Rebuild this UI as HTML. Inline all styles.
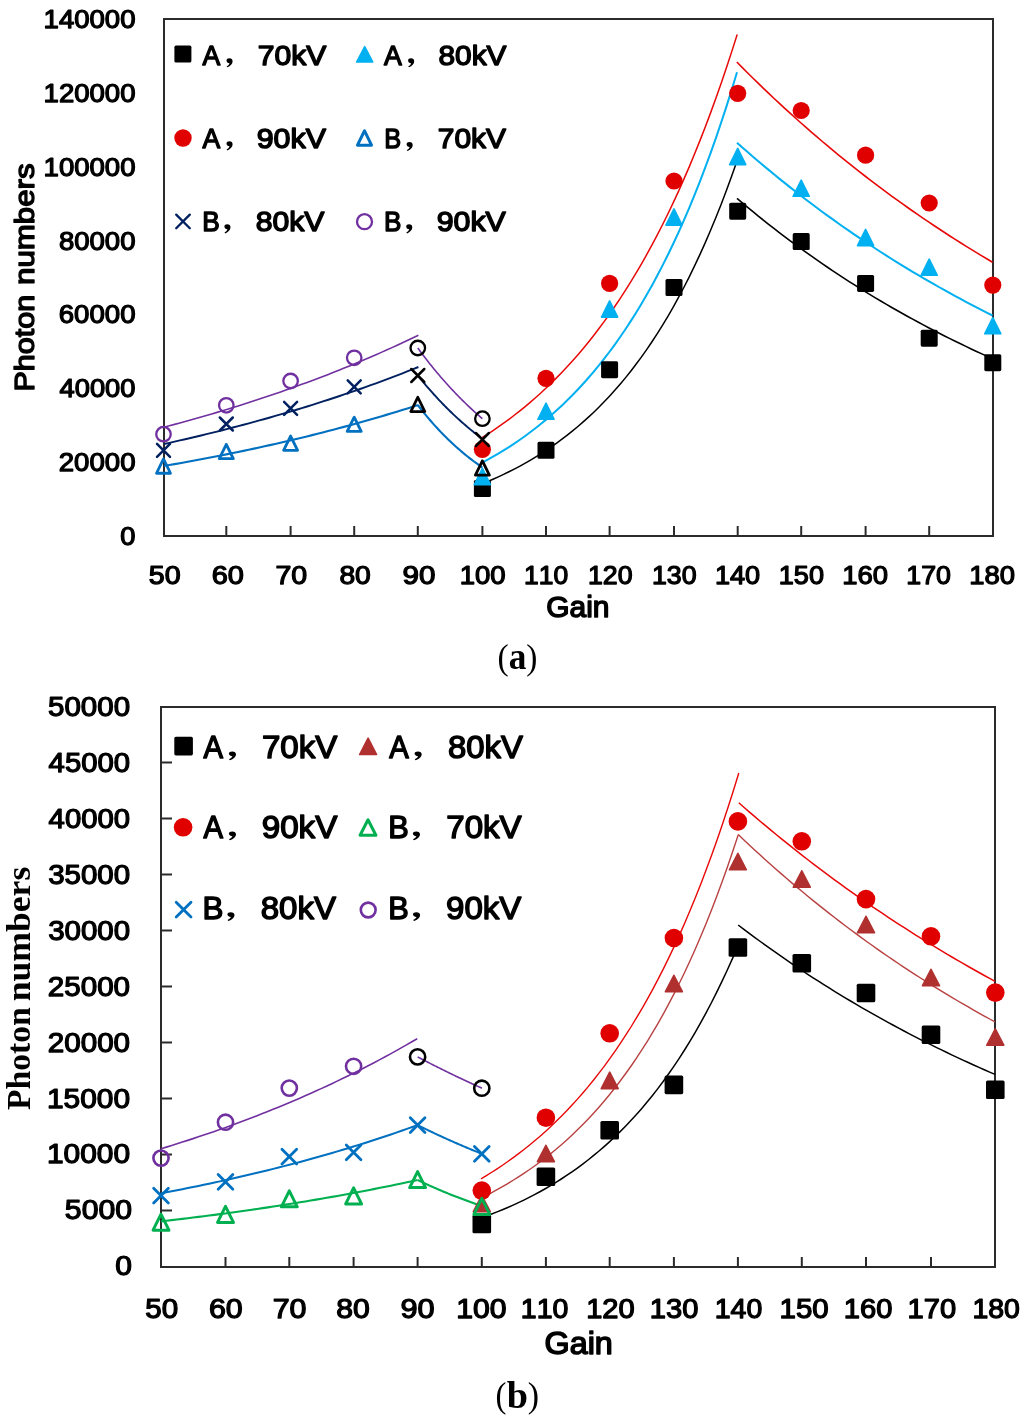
<!DOCTYPE html>
<html><head><meta charset="utf-8"><title>Photon numbers vs Gain</title>
<style>html,body{margin:0;padding:0;background:#fff;width:1024px;height:1420px;overflow:hidden}
svg{display:block;will-change:transform}text{font-kerning:none;font-variant-ligatures:none}</style></head>
<body><svg width="1024" height="1420" viewBox="0 0 1024 1420">
<rect width="1024" height="1420" fill="#fff"/>
<rect x="164" y="19" width="829" height="517" fill="none" stroke="#2b2b2b" stroke-width="2"/>
<line x1="226.3" y1="536" x2="226.3" y2="526" stroke="#2b2b2b" stroke-width="2"/>
<line x1="290.6" y1="536" x2="290.6" y2="526" stroke="#2b2b2b" stroke-width="2"/>
<line x1="354.2" y1="536" x2="354.2" y2="526" stroke="#2b2b2b" stroke-width="2"/>
<line x1="417.8" y1="536" x2="417.8" y2="526" stroke="#2b2b2b" stroke-width="2"/>
<line x1="482.4" y1="536" x2="482.4" y2="526" stroke="#2b2b2b" stroke-width="2"/>
<line x1="546" y1="536" x2="546" y2="526" stroke="#2b2b2b" stroke-width="2"/>
<line x1="609.6" y1="536" x2="609.6" y2="526" stroke="#2b2b2b" stroke-width="2"/>
<line x1="674" y1="536" x2="674" y2="526" stroke="#2b2b2b" stroke-width="2"/>
<line x1="737.7" y1="536" x2="737.7" y2="526" stroke="#2b2b2b" stroke-width="2"/>
<line x1="801.2" y1="536" x2="801.2" y2="526" stroke="#2b2b2b" stroke-width="2"/>
<line x1="865.6" y1="536" x2="865.6" y2="526" stroke="#2b2b2b" stroke-width="2"/>
<line x1="929.2" y1="536" x2="929.2" y2="526" stroke="#2b2b2b" stroke-width="2"/>
<path d="M164 427.2 L169.3 425.8 L174.6 424.39 L179.9 422.95 L185.2 421.5 L190.5 420.03 L195.8 418.54 L201.1 417.03 L206.4 415.5 L211.7 413.95 L217 412.38 L222.3 410.8 L227.6 409.19 L232.9 407.56 L238.2 405.91 L243.5 404.24 L248.8 402.54 L254.1 400.83 L259.4 399.09 L264.7 397.33 L270 395.55 L275.3 393.75 L280.6 391.92 L285.9 390.07 L291.2 388.19 L296.5 386.29 L301.8 384.37 L307.1 382.42 L312.4 380.45 L317.7 378.45 L323 376.43 L328.3 374.38 L333.6 372.3 L338.9 370.2 L344.2 368.07 L349.5 365.91 L354.8 363.72 L360.1 361.51 L365.4 359.27 L370.7 357 L376 354.7 L381.3 352.37 L386.6 350.01 L391.9 347.62 L397.2 345.2 L402.5 342.75 L407.8 340.26 L413.1 337.75 L418.4 335.2" fill="none" stroke="#7030A0" stroke-width="1.6" stroke-linejoin="round"/>
<path d="M164 444 L169.3 442.83 L174.6 441.64 L179.9 440.44 L185.2 439.22 L190.5 437.98 L195.8 436.73 L201.1 435.47 L206.4 434.19 L211.7 432.89 L217 431.57 L222.3 430.24 L227.6 428.89 L232.9 427.53 L238.2 426.15 L243.5 424.75 L248.8 423.33 L254.1 421.89 L259.4 420.44 L264.7 418.96 L270 417.47 L275.3 415.96 L280.6 414.43 L285.9 412.88 L291.2 411.31 L296.5 409.72 L301.8 408.11 L307.1 406.48 L312.4 404.83 L317.7 403.15 L323 401.46 L328.3 399.75 L333.6 398.01 L338.9 396.25 L344.2 394.47 L349.5 392.66 L354.8 390.83 L360.1 388.98 L365.4 387.11 L370.7 385.21 L376 383.29 L381.3 381.34 L386.6 379.37 L391.9 377.37 L397.2 375.35 L402.5 373.3 L407.8 371.23 L413.1 369.13 L418.4 367" fill="none" stroke="#002060" stroke-width="1.9" stroke-linejoin="round"/>
<path d="M164 466 L169.29 465.08 L174.58 464.15 L179.88 463.2 L185.17 462.25 L190.46 461.28 L195.75 460.3 L201.04 459.3 L206.33 458.29 L211.62 457.27 L216.92 456.24 L222.21 455.19 L227.5 454.13 L232.79 453.05 L238.08 451.96 L243.38 450.86 L248.67 449.74 L253.96 448.6 L259.25 447.46 L264.54 446.29 L269.83 445.11 L275.12 443.92 L280.42 442.71 L285.71 441.48 L291 440.24 L296.29 438.98 L301.58 437.71 L306.88 436.41 L312.17 435.11 L317.46 433.78 L322.75 432.44 L328.04 431.08 L333.33 429.7 L338.62 428.3 L343.92 426.88 L349.21 425.45 L354.5 424 L359.79 422.53 L365.08 421.03 L370.38 419.52 L375.67 417.99 L380.96 416.44 L386.25 414.87 L391.54 413.28 L396.83 411.67 L402.12 410.03 L407.42 408.38 L412.71 406.7 L418 405" fill="none" stroke="#0070C0" stroke-width="2.1" stroke-linejoin="round"/>
<path d="M417.8 348 L419.15 349.84 L420.49 351.66 L421.84 353.46 L423.18 355.25 L424.53 357.01 L425.88 358.76 L427.22 360.5 L428.57 362.21 L429.91 363.91 L431.26 365.6 L432.6 367.26 L433.95 368.91 L435.3 370.55 L436.64 372.16 L437.99 373.77 L439.33 375.35 L440.68 376.92 L442.02 378.48 L443.37 380.02 L444.72 381.55 L446.06 383.06 L447.41 384.55 L448.75 386.03 L450.1 387.5 L451.45 388.95 L452.79 390.39 L454.14 391.81 L455.48 393.22 L456.83 394.62 L458.18 396 L459.52 397.37 L460.87 398.73 L462.21 400.07 L463.56 401.4 L464.9 402.72 L466.25 404.02 L467.6 405.31 L468.94 406.59 L470.29 407.85 L471.63 409.11 L472.98 410.35 L474.32 411.58 L475.67 412.79 L477.02 414 L478.36 415.19 L479.71 416.37 L481.05 417.54 L482.4 418.7" fill="none" stroke="#7030A0" stroke-width="1.6" stroke-linejoin="round"/>
<path d="M417.8 375.5 L419.15 377.18 L420.49 378.83 L421.84 380.47 L423.18 382.1 L424.53 383.7 L425.88 385.29 L427.22 386.86 L428.57 388.42 L429.91 389.96 L431.26 391.49 L432.6 392.99 L433.95 394.49 L435.3 395.96 L436.64 397.42 L437.99 398.87 L439.33 400.3 L440.68 401.72 L442.02 403.12 L443.37 404.51 L444.72 405.88 L446.06 407.24 L447.41 408.58 L448.75 409.91 L450.1 411.23 L451.45 412.53 L452.79 413.82 L454.14 415.09 L455.48 416.35 L456.83 417.6 L458.18 418.84 L459.52 420.06 L460.87 421.27 L462.21 422.47 L463.56 423.65 L464.9 424.83 L466.25 425.99 L467.6 427.13 L468.94 428.27 L470.29 429.39 L471.63 430.51 L472.98 431.61 L474.32 432.7 L475.67 433.78 L477.02 434.84 L478.36 435.9 L479.71 436.94 L481.05 437.98 L482.4 439" fill="none" stroke="#002060" stroke-width="1.9" stroke-linejoin="round"/>
<path d="M417.8 405 L419.15 406.76 L420.49 408.49 L421.84 410.2 L423.18 411.89 L424.53 413.56 L425.88 415.2 L427.22 416.82 L428.57 418.42 L429.91 420 L431.26 421.55 L432.6 423.09 L433.95 424.6 L435.3 426.1 L436.64 427.57 L437.99 429.03 L439.33 430.46 L440.68 431.88 L442.02 433.27 L443.37 434.65 L444.72 436.01 L446.06 437.35 L447.41 438.68 L448.75 439.98 L450.1 441.27 L451.45 442.54 L452.79 443.8 L454.14 445.03 L455.48 446.25 L456.83 447.46 L458.18 448.65 L459.52 449.82 L460.87 450.97 L462.21 452.11 L463.56 453.24 L464.9 454.35 L466.25 455.45 L467.6 456.53 L468.94 457.59 L470.29 458.65 L471.63 459.68 L472.98 460.71 L474.32 461.72 L475.67 462.71 L477.02 463.7 L478.36 464.67 L479.71 465.62 L481.05 466.57 L482.4 467.5" fill="none" stroke="#0070C0" stroke-width="2.1" stroke-linejoin="round"/>
<path d="M482.4 437.5 L487.71 434.1 L493.02 430.59 L498.32 426.95 L503.63 423.19 L508.94 419.3 L514.25 415.27 L519.56 411.11 L524.87 406.8 L530.17 402.35 L535.48 397.74 L540.79 392.97 L546.1 388.03 L551.41 382.93 L556.72 377.65 L562.02 372.19 L567.33 366.54 L572.64 360.69 L577.95 354.64 L583.26 348.39 L588.57 341.92 L593.88 335.22 L599.18 328.3 L604.49 321.13 L609.8 313.72 L615.11 306.05 L620.42 298.12 L625.73 289.92 L631.03 281.43 L636.34 272.65 L641.65 263.57 L646.96 254.17 L652.27 244.45 L657.58 234.39 L662.88 223.99 L668.19 213.23 L673.5 202.09 L678.81 190.57 L684.12 178.66 L689.43 166.33 L694.73 153.58 L700.04 140.39 L705.35 126.75 L710.66 112.63 L715.97 98.03 L721.28 82.92 L726.58 67.29 L731.89 51.12 L737.2 34.4" fill="none" stroke="#E80808" stroke-width="1.5" stroke-linejoin="round"/>
<path d="M482.4 462.6 L487.7 459.73 L493.01 456.74 L498.31 453.64 L503.62 450.41 L508.92 447.06 L514.23 443.58 L519.53 439.96 L524.83 436.2 L530.14 432.3 L535.44 428.24 L540.75 424.02 L546.05 419.63 L551.35 415.08 L556.66 410.34 L561.96 405.42 L567.27 400.31 L572.57 395 L577.88 389.48 L583.18 383.74 L588.48 377.78 L593.79 371.59 L599.09 365.15 L604.4 358.46 L609.7 351.51 L615 344.29 L620.31 336.78 L625.61 328.99 L630.92 320.88 L636.22 312.46 L641.52 303.71 L646.83 294.61 L652.13 285.16 L657.44 275.34 L662.74 265.14 L668.05 254.54 L673.35 243.52 L678.65 232.07 L683.96 220.17 L689.26 207.8 L694.57 194.95 L699.87 181.6 L705.17 167.73 L710.48 153.31 L715.78 138.33 L721.09 122.76 L726.39 106.58 L731.7 89.77 L737 72.3" fill="none" stroke="#00B0F0" stroke-width="2.0" stroke-linejoin="round"/>
<path d="M482.4 483.7 L487.7 481.51 L493.01 479.23 L498.31 476.85 L503.62 474.37 L508.92 471.79 L514.23 469.1 L519.53 466.29 L524.83 463.37 L530.14 460.33 L535.44 457.16 L540.75 453.86 L546.05 450.42 L551.35 446.83 L556.66 443.1 L561.96 439.2 L567.27 435.15 L572.57 430.92 L577.88 426.52 L583.18 421.94 L588.48 417.16 L593.79 412.18 L599.09 406.99 L604.4 401.59 L609.7 395.96 L615 390.09 L620.31 383.98 L625.61 377.61 L630.92 370.97 L636.22 364.06 L641.52 356.85 L646.83 349.35 L652.13 341.53 L657.44 333.38 L662.74 324.89 L668.05 316.05 L673.35 306.83 L678.65 297.23 L683.96 287.23 L689.26 276.81 L694.57 265.95 L699.87 254.64 L705.17 242.85 L710.48 230.57 L715.78 217.77 L721.09 204.44 L726.39 190.55 L731.7 176.08 L737 161" fill="none" stroke="#000" stroke-width="1.5" stroke-linejoin="round"/>
<path d="M736.8 62 L742.13 67.39 L747.45 72.72 L752.78 77.98 L758.11 83.19 L763.44 88.34 L768.76 93.43 L774.09 98.46 L779.42 103.43 L784.74 108.35 L790.07 113.21 L795.4 118.02 L800.72 122.77 L806.05 127.47 L811.38 132.11 L816.71 136.7 L822.03 141.24 L827.36 145.73 L832.69 150.17 L838.01 154.55 L843.34 158.89 L848.67 163.18 L854 167.42 L859.32 171.61 L864.65 175.75 L869.98 179.84 L875.3 183.89 L880.63 187.9 L885.96 191.85 L891.29 195.77 L896.61 199.63 L901.94 203.46 L907.27 207.24 L912.59 210.98 L917.92 214.67 L923.25 218.32 L928.58 221.93 L933.9 225.51 L939.23 229.04 L944.56 232.52 L949.88 235.97 L955.21 239.39 L960.54 242.76 L965.86 246.09 L971.19 249.39 L976.52 252.65 L981.85 255.87 L987.17 259.05 L992.5 262.2" fill="none" stroke="#E80808" stroke-width="1.6" stroke-linejoin="round"/>
<path d="M737 142.7 L742.32 147.41 L747.65 152.07 L752.97 156.67 L758.29 161.22 L763.61 165.71 L768.94 170.14 L774.26 174.53 L779.58 178.86 L784.91 183.14 L790.23 187.37 L795.55 191.55 L800.88 195.67 L806.2 199.75 L811.52 203.78 L816.84 207.76 L822.17 211.7 L827.49 215.58 L832.81 219.42 L838.14 223.22 L843.46 226.96 L848.78 230.67 L854.1 234.33 L859.43 237.94 L864.75 241.51 L870.07 245.04 L875.4 248.53 L880.72 251.97 L886.04 255.38 L891.36 258.74 L896.69 262.06 L902.01 265.34 L907.33 268.59 L912.66 271.79 L917.98 274.96 L923.3 278.09 L928.62 281.18 L933.95 284.23 L939.27 287.25 L944.59 290.23 L949.92 293.17 L955.24 296.08 L960.56 298.96 L965.89 301.8 L971.21 304.61 L976.53 307.38 L981.85 310.12 L987.18 312.83 L992.5 315.5" fill="none" stroke="#00B0F0" stroke-width="2.0" stroke-linejoin="round"/>
<path d="M737 198.4 L742.32 202.9 L747.65 207.34 L752.97 211.72 L758.29 216.04 L763.61 220.31 L768.94 224.51 L774.26 228.66 L779.58 232.76 L784.91 236.8 L790.23 240.79 L795.55 244.72 L800.88 248.61 L806.2 252.44 L811.52 256.21 L816.84 259.94 L822.17 263.62 L827.49 267.25 L832.81 270.83 L838.14 274.37 L843.46 277.86 L848.78 281.3 L854.1 284.69 L859.43 288.04 L864.75 291.34 L870.07 294.6 L875.4 297.82 L880.72 301 L886.04 304.13 L891.36 307.22 L896.69 310.27 L902.01 313.28 L907.33 316.24 L912.66 319.17 L917.98 322.06 L923.3 324.91 L928.62 327.73 L933.95 330.5 L939.27 333.24 L944.59 335.94 L949.92 338.61 L955.24 341.24 L960.56 343.84 L965.89 346.4 L971.21 348.92 L976.53 351.42 L981.85 353.88 L987.18 356.31 L992.5 358.7" fill="none" stroke="#000" stroke-width="1.6" stroke-linejoin="round"/>
<rect x="473.9" y="480" width="17" height="17" rx="1.6" fill="#000"/>
<rect x="537.5" y="441.8" width="17" height="17" rx="1.6" fill="#000"/>
<rect x="601.1" y="361.2" width="17" height="17" rx="1.6" fill="#000"/>
<rect x="665.5" y="279" width="17" height="17" rx="1.6" fill="#000"/>
<rect x="729.2" y="202.7" width="17" height="17" rx="1.6" fill="#000"/>
<rect x="792.7" y="233.1" width="17" height="17" rx="1.6" fill="#000"/>
<rect x="857.1" y="274.9" width="17" height="17" rx="1.6" fill="#000"/>
<rect x="920.7" y="329.7" width="17" height="17" rx="1.6" fill="#000"/>
<rect x="984.3" y="354.2" width="17" height="17" rx="1.6" fill="#000"/>
<polygon points="474.32,484.6 490.48,484.6 482.4,468.4" fill="#00B0F0" stroke="#00B0F0" stroke-width="1.6" stroke-linejoin="round"/>
<polygon points="537.92,419.3 554.08,419.3 546,403.1" fill="#00B0F0" stroke="#00B0F0" stroke-width="1.6" stroke-linejoin="round"/>
<polygon points="601.52,317.1 617.68,317.1 609.6,300.9" fill="#00B0F0" stroke="#00B0F0" stroke-width="1.6" stroke-linejoin="round"/>
<polygon points="665.92,225.1 682.08,225.1 674,208.9" fill="#00B0F0" stroke="#00B0F0" stroke-width="1.6" stroke-linejoin="round"/>
<polygon points="729.62,164.6 745.78,164.6 737.7,148.4" fill="#00B0F0" stroke="#00B0F0" stroke-width="1.6" stroke-linejoin="round"/>
<polygon points="793.12,196.3 809.28,196.3 801.2,180.1" fill="#00B0F0" stroke="#00B0F0" stroke-width="1.6" stroke-linejoin="round"/>
<polygon points="857.52,245.6 873.68,245.6 865.6,229.4" fill="#00B0F0" stroke="#00B0F0" stroke-width="1.6" stroke-linejoin="round"/>
<polygon points="921.12,275.3 937.28,275.3 929.2,259.1" fill="#00B0F0" stroke="#00B0F0" stroke-width="1.6" stroke-linejoin="round"/>
<polygon points="984.72,333.8 1000.88,333.8 992.8,317.6" fill="#00B0F0" stroke="#00B0F0" stroke-width="1.6" stroke-linejoin="round"/>
<circle cx="482.4" cy="449.3" r="8.6" fill="#E00000"/>
<circle cx="546" cy="378.3" r="8.6" fill="#E00000"/>
<circle cx="609.6" cy="283.4" r="8.6" fill="#E00000"/>
<circle cx="674" cy="181" r="8.6" fill="#E00000"/>
<circle cx="737.7" cy="93.3" r="8.6" fill="#E00000"/>
<circle cx="801.2" cy="110.5" r="8.6" fill="#E00000"/>
<circle cx="865.6" cy="155.2" r="8.6" fill="#E00000"/>
<circle cx="929.2" cy="203" r="8.6" fill="#E00000"/>
<circle cx="992.8" cy="285.1" r="8.6" fill="#E00000"/>
<polygon points="156.51,473.25 170.49,473.25 163.5,458.95" fill="none" stroke="#0070C0" stroke-width="2.8" stroke-linejoin="round"/>
<polygon points="219.31,458.65 233.29,458.65 226.3,444.35" fill="none" stroke="#0070C0" stroke-width="2.8" stroke-linejoin="round"/>
<polygon points="283.61,450.35 297.59,450.35 290.6,436.05" fill="none" stroke="#0070C0" stroke-width="2.8" stroke-linejoin="round"/>
<polygon points="347.21,431.45 361.19,431.45 354.2,417.15" fill="none" stroke="#0070C0" stroke-width="2.8" stroke-linejoin="round"/>
<polygon points="410.81,411.55 424.79,411.55 417.8,397.25" fill="none" stroke="#000" stroke-width="2.8" stroke-linejoin="round"/>
<polygon points="475.41,475.15 489.39,475.15 482.4,460.85" fill="none" stroke="#000" stroke-width="2.8" stroke-linejoin="round"/>
<path d="M157 443.9 L170 456.9 M157 456.9 L170 443.9" stroke="#002060" stroke-width="2.5" stroke-linecap="round" fill="none"/>
<path d="M219.8 417.5 L232.8 430.5 M219.8 430.5 L232.8 417.5" stroke="#002060" stroke-width="2.5" stroke-linecap="round" fill="none"/>
<path d="M284.1 401.9 L297.1 414.9 M284.1 414.9 L297.1 401.9" stroke="#002060" stroke-width="2.5" stroke-linecap="round" fill="none"/>
<path d="M347.7 380.4 L360.7 393.4 M347.7 393.4 L360.7 380.4" stroke="#002060" stroke-width="2.5" stroke-linecap="round" fill="none"/>
<path d="M411.3 369 L424.3 382 M411.3 382 L424.3 369" stroke="#000" stroke-width="2.5" stroke-linecap="round" fill="none"/>
<path d="M475.9 433 L488.9 446 M475.9 446 L488.9 433" stroke="#000" stroke-width="2.5" stroke-linecap="round" fill="none"/>
<circle cx="163.5" cy="434.2" r="7.25" fill="none" stroke="#7030A0" stroke-width="2.3"/>
<circle cx="226.3" cy="405.3" r="7.25" fill="none" stroke="#7030A0" stroke-width="2.3"/>
<circle cx="290.6" cy="381" r="7.25" fill="none" stroke="#7030A0" stroke-width="2.3"/>
<circle cx="354.2" cy="357.8" r="7.25" fill="none" stroke="#7030A0" stroke-width="2.3"/>
<circle cx="417.8" cy="348" r="7.25" fill="none" stroke="#000" stroke-width="2.3"/>
<circle cx="482.4" cy="418.7" r="7.25" fill="none" stroke="#000" stroke-width="2.3"/>
<rect x="174.4" y="45.6" width="17" height="17" rx="1.6" fill="#000"/>
<polygon points="356.62,62 372.78,62 364.7,46.6" fill="#00B0F0" stroke="#00B0F0" stroke-width="1.6" stroke-linejoin="round"/>
<circle cx="183" cy="138" r="8.7" fill="#E00000"/>
<polygon points="357.42,145.25 371.58,145.25 364.5,130.75" fill="none" stroke="#0070C0" stroke-width="2.9" stroke-linejoin="round"/>
<path d="M176.2 214.6 L189.8 228.2 M176.2 228.2 L189.8 214.6" stroke="#002060" stroke-width="2.3" stroke-linecap="round" fill="none"/>
<circle cx="364.5" cy="221.7" r="7.5" fill="none" stroke="#7030A0" stroke-width="2.3"/>
<text x="202.4" y="65.15" font-family='"Liberation Sans", sans-serif' font-size="28.49" font-weight="normal" textLength="17.7" lengthAdjust="spacingAndGlyphs" stroke="#000" stroke-width="1.45" stroke-linejoin="round">A</text>
<path transform="translate(226.1 58.2) scale(1 1)" d="M0.4,2.2 C0.4,0.8 1.6,0 3.3,0 C5.3,0 6.5,1.2 6.5,3.0 C6.5,5.6 4.3,8.0 1.3,9.1 L0.5,8.1 C2.2,7.2 3.2,6.2 3.4,5.0 C1.6,4.9 0.4,3.7 0.4,2.2 Z" fill="#000"/>
<text x="257.81" y="65.15" font-family='"Liberation Sans", sans-serif' font-size="28.49" font-weight="normal" textLength="68.57" lengthAdjust="spacingAndGlyphs" stroke="#000" stroke-width="1.45" stroke-linejoin="round">70kV</text>
<text x="384" y="65.15" font-family='"Liberation Sans", sans-serif' font-size="28.49" font-weight="normal" textLength="17.8" lengthAdjust="spacingAndGlyphs" stroke="#000" stroke-width="1.45" stroke-linejoin="round">A</text>
<path transform="translate(407.7 58.2) scale(1 1)" d="M0.4,2.2 C0.4,0.8 1.6,0 3.3,0 C5.3,0 6.5,1.2 6.5,3.0 C6.5,5.6 4.3,8.0 1.3,9.1 L0.5,8.1 C2.2,7.2 3.2,6.2 3.4,5.0 C1.6,4.9 0.4,3.7 0.4,2.2 Z" fill="#000"/>
<text x="438.56" y="65.15" font-family='"Liberation Sans", sans-serif' font-size="28.49" font-weight="normal" textLength="67.92" lengthAdjust="spacingAndGlyphs" stroke="#000" stroke-width="1.45" stroke-linejoin="round">80kV</text>
<text x="202.4" y="148.15" font-family='"Liberation Sans", sans-serif' font-size="28.49" font-weight="normal" textLength="17.7" lengthAdjust="spacingAndGlyphs" stroke="#000" stroke-width="1.45" stroke-linejoin="round">A</text>
<path transform="translate(226.1 141.3) scale(1 1)" d="M0.4,2.2 C0.4,0.8 1.6,0 3.3,0 C5.3,0 6.5,1.2 6.5,3.0 C6.5,5.6 4.3,8.0 1.3,9.1 L0.5,8.1 C2.2,7.2 3.2,6.2 3.4,5.0 C1.6,4.9 0.4,3.7 0.4,2.2 Z" fill="#000"/>
<text x="256.73" y="148.15" font-family='"Liberation Sans", sans-serif' font-size="28.49" font-weight="normal" textLength="69.26" lengthAdjust="spacingAndGlyphs" stroke="#000" stroke-width="1.45" stroke-linejoin="round">90kV</text>
<text x="384.37" y="148.15" font-family='"Liberation Sans", sans-serif' font-size="28.49" font-weight="normal" textLength="16.92" lengthAdjust="spacingAndGlyphs" stroke="#000" stroke-width="1.45" stroke-linejoin="round">B</text>
<path transform="translate(406.2 142) scale(1 1)" d="M0.4,2.2 C0.4,0.8 1.6,0 3.3,0 C5.3,0 6.5,1.2 6.5,3.0 C6.5,5.6 4.3,8.0 1.3,9.1 L0.5,8.1 C2.2,7.2 3.2,6.2 3.4,5.0 C1.6,4.9 0.4,3.7 0.4,2.2 Z" fill="#000"/>
<text x="437.82" y="148.15" font-family='"Liberation Sans", sans-serif' font-size="28.49" font-weight="normal" textLength="68.16" lengthAdjust="spacingAndGlyphs" stroke="#000" stroke-width="1.45" stroke-linejoin="round">70kV</text>
<text x="202.29" y="230.55" font-family='"Liberation Sans", sans-serif' font-size="28.49" font-weight="normal" textLength="17.54" lengthAdjust="spacingAndGlyphs" stroke="#000" stroke-width="1.45" stroke-linejoin="round">B</text>
<path transform="translate(224 224.3) scale(1 1)" d="M0.4,2.2 C0.4,0.8 1.6,0 3.3,0 C5.3,0 6.5,1.2 6.5,3.0 C6.5,5.6 4.3,8.0 1.3,9.1 L0.5,8.1 C2.2,7.2 3.2,6.2 3.4,5.0 C1.6,4.9 0.4,3.7 0.4,2.2 Z" fill="#000"/>
<text x="255.74" y="230.55" font-family='"Liberation Sans", sans-serif' font-size="28.49" font-weight="normal" textLength="68.74" lengthAdjust="spacingAndGlyphs" stroke="#000" stroke-width="1.45" stroke-linejoin="round">80kV</text>
<text x="384.01" y="230.55" font-family='"Liberation Sans", sans-serif' font-size="28.49" font-weight="normal" textLength="17.42" lengthAdjust="spacingAndGlyphs" stroke="#000" stroke-width="1.45" stroke-linejoin="round">B</text>
<path transform="translate(405.8 224.3) scale(1 1)" d="M0.4,2.2 C0.4,0.8 1.6,0 3.3,0 C5.3,0 6.5,1.2 6.5,3.0 C6.5,5.6 4.3,8.0 1.3,9.1 L0.5,8.1 C2.2,7.2 3.2,6.2 3.4,5.0 C1.6,4.9 0.4,3.7 0.4,2.2 Z" fill="#000"/>
<text x="436.73" y="230.55" font-family='"Liberation Sans", sans-serif' font-size="28.49" font-weight="normal" textLength="69.15" lengthAdjust="spacingAndGlyphs" stroke="#000" stroke-width="1.45" stroke-linejoin="round">90kV</text>
<text x="43.58" y="28.17" font-family='"Liberation Sans", sans-serif' font-size="25.78" font-weight="normal" textLength="91.92" lengthAdjust="spacingAndGlyphs" stroke="#000" stroke-width="1.25" stroke-linejoin="round">140000</text>
<text x="43.58" y="101.97" font-family='"Liberation Sans", sans-serif' font-size="25.78" font-weight="normal" textLength="91.92" lengthAdjust="spacingAndGlyphs" stroke="#000" stroke-width="1.25" stroke-linejoin="round">120000</text>
<text x="43.58" y="175.77" font-family='"Liberation Sans", sans-serif' font-size="25.78" font-weight="normal" textLength="91.92" lengthAdjust="spacingAndGlyphs" stroke="#000" stroke-width="1.25" stroke-linejoin="round">100000</text>
<text x="58.98" y="249.57" font-family='"Liberation Sans", sans-serif' font-size="25.78" font-weight="normal" textLength="76.52" lengthAdjust="spacingAndGlyphs" stroke="#000" stroke-width="1.25" stroke-linejoin="round">80000</text>
<text x="58.77" y="323.37" font-family='"Liberation Sans", sans-serif' font-size="25.78" font-weight="normal" textLength="76.73" lengthAdjust="spacingAndGlyphs" stroke="#000" stroke-width="1.25" stroke-linejoin="round">60000</text>
<text x="59.55" y="397.17" font-family='"Liberation Sans", sans-serif' font-size="25.78" font-weight="normal" textLength="75.94" lengthAdjust="spacingAndGlyphs" stroke="#000" stroke-width="1.25" stroke-linejoin="round">40000</text>
<text x="58.79" y="470.97" font-family='"Liberation Sans", sans-serif' font-size="25.78" font-weight="normal" textLength="76.72" lengthAdjust="spacingAndGlyphs" stroke="#000" stroke-width="1.25" stroke-linejoin="round">20000</text>
<text x="120.31" y="544.77" font-family='"Liberation Sans", sans-serif' font-size="25.78" font-weight="normal" textLength="15.18" lengthAdjust="spacingAndGlyphs" stroke="#000" stroke-width="1.25" stroke-linejoin="round">0</text>
<text x="148.83" y="583.68" font-family='"Liberation Sans", sans-serif' font-size="25.49" font-weight="normal" textLength="31.81" lengthAdjust="spacingAndGlyphs" stroke="#000" stroke-width="1.25" stroke-linejoin="round">50</text>
<text x="211.81" y="583.68" font-family='"Liberation Sans", sans-serif' font-size="25.49" font-weight="normal" textLength="32.15" lengthAdjust="spacingAndGlyphs" stroke="#000" stroke-width="1.25" stroke-linejoin="round">60</text>
<text x="275.51" y="583.68" font-family='"Liberation Sans", sans-serif' font-size="25.49" font-weight="normal" textLength="31.73" lengthAdjust="spacingAndGlyphs" stroke="#000" stroke-width="1.25" stroke-linejoin="round">70</text>
<text x="339.45" y="583.68" font-family='"Liberation Sans", sans-serif' font-size="25.49" font-weight="normal" textLength="31.38" lengthAdjust="spacingAndGlyphs" stroke="#000" stroke-width="1.25" stroke-linejoin="round">80</text>
<text x="402.49" y="583.68" font-family='"Liberation Sans", sans-serif' font-size="25.49" font-weight="normal" textLength="32.89" lengthAdjust="spacingAndGlyphs" stroke="#000" stroke-width="1.25" stroke-linejoin="round">90</text>
<text x="459.68" y="583.68" font-family='"Liberation Sans", sans-serif' font-size="25.49" font-weight="normal" textLength="45.92" lengthAdjust="spacingAndGlyphs" stroke="#000" stroke-width="1.25" stroke-linejoin="round">100</text>
<text x="524.06" y="583.68" font-family='"Liberation Sans", sans-serif' font-size="25.49" font-weight="normal" textLength="44.1" lengthAdjust="spacingAndGlyphs" stroke="#000" stroke-width="1.25" stroke-linejoin="round">110</text>
<text x="588.04" y="583.68" font-family='"Liberation Sans", sans-serif' font-size="25.49" font-weight="normal" textLength="44.53" lengthAdjust="spacingAndGlyphs" stroke="#000" stroke-width="1.25" stroke-linejoin="round">120</text>
<text x="651.94" y="583.68" font-family='"Liberation Sans", sans-serif' font-size="25.49" font-weight="normal" textLength="44.63" lengthAdjust="spacingAndGlyphs" stroke="#000" stroke-width="1.25" stroke-linejoin="round">130</text>
<text x="714.91" y="583.68" font-family='"Liberation Sans", sans-serif' font-size="25.49" font-weight="normal" textLength="45.17" lengthAdjust="spacingAndGlyphs" stroke="#000" stroke-width="1.25" stroke-linejoin="round">140</text>
<text x="778.81" y="583.68" font-family='"Liberation Sans", sans-serif' font-size="25.49" font-weight="normal" textLength="45.17" lengthAdjust="spacingAndGlyphs" stroke="#000" stroke-width="1.25" stroke-linejoin="round">150</text>
<text x="842.29" y="583.68" font-family='"Liberation Sans", sans-serif' font-size="25.49" font-weight="normal" textLength="45.71" lengthAdjust="spacingAndGlyphs" stroke="#000" stroke-width="1.25" stroke-linejoin="round">160</text>
<text x="906.34" y="583.68" font-family='"Liberation Sans", sans-serif' font-size="25.49" font-weight="normal" textLength="44.63" lengthAdjust="spacingAndGlyphs" stroke="#000" stroke-width="1.25" stroke-linejoin="round">170</text>
<text x="969.19" y="583.68" font-family='"Liberation Sans", sans-serif' font-size="25.49" font-weight="normal" textLength="45.71" lengthAdjust="spacingAndGlyphs" stroke="#000" stroke-width="1.25" stroke-linejoin="round">180</text>
<text x="546.25" y="616.96" font-family='"Liberation Sans", sans-serif' font-size="29.38" font-weight="normal" textLength="63.25" lengthAdjust="spacingAndGlyphs" stroke="#000" stroke-width="1.45" stroke-linejoin="round">Gain</text>
<text transform="translate(34.4 389.6) rotate(-90)" x="-1.97" y="-0.53" font-family='"Liberation Sans", sans-serif' font-size="28.11" font-weight="normal" textLength="96.83" lengthAdjust="spacingAndGlyphs" stroke="#000" stroke-width="1.4" stroke-linejoin="round">Photon</text>
<text transform="translate(34.4 283.4) rotate(-90)" x="-1.54" y="-0.53" font-family='"Liberation Sans", sans-serif' font-size="28.11" font-weight="normal" textLength="121.54" lengthAdjust="spacingAndGlyphs" stroke="#000" stroke-width="1.4" stroke-linejoin="round">numbers</text>
<text x="497.43" y="669" font-family='"Liberation Serif", serif' font-size="36.17" font-weight="normal" textLength="11.15" lengthAdjust="spacingAndGlyphs">(</text>
<text x="508.76" y="669.02" font-family='"Liberation Serif", serif' font-size="38.62" font-weight="bold" textLength="17.67" lengthAdjust="spacingAndGlyphs">a</text>
<text x="526.22" y="669" font-family='"Liberation Serif", serif' font-size="36.17" font-weight="normal" textLength="11.15" lengthAdjust="spacingAndGlyphs">)</text>
<rect x="161" y="707" width="834" height="560" fill="none" stroke="#2b2b2b" stroke-width="2"/>
<line x1="225.5" y1="1267" x2="225.5" y2="1257" stroke="#2b2b2b" stroke-width="2"/>
<line x1="289.3" y1="1267" x2="289.3" y2="1257" stroke="#2b2b2b" stroke-width="2"/>
<line x1="353.6" y1="1267" x2="353.6" y2="1257" stroke="#2b2b2b" stroke-width="2"/>
<line x1="417.6" y1="1267" x2="417.6" y2="1257" stroke="#2b2b2b" stroke-width="2"/>
<line x1="481.8" y1="1267" x2="481.8" y2="1257" stroke="#2b2b2b" stroke-width="2"/>
<line x1="545.9" y1="1267" x2="545.9" y2="1257" stroke="#2b2b2b" stroke-width="2"/>
<line x1="609.7" y1="1267" x2="609.7" y2="1257" stroke="#2b2b2b" stroke-width="2"/>
<line x1="673.9" y1="1267" x2="673.9" y2="1257" stroke="#2b2b2b" stroke-width="2"/>
<line x1="737.9" y1="1267" x2="737.9" y2="1257" stroke="#2b2b2b" stroke-width="2"/>
<line x1="801.8" y1="1267" x2="801.8" y2="1257" stroke="#2b2b2b" stroke-width="2"/>
<line x1="866" y1="1267" x2="866" y2="1257" stroke="#2b2b2b" stroke-width="2"/>
<line x1="931" y1="1267" x2="931" y2="1257" stroke="#2b2b2b" stroke-width="2"/>
<line x1="161" y1="1210.5" x2="172" y2="1210.5" stroke="#2b2b2b" stroke-width="2"/>
<line x1="161" y1="1154.5" x2="172" y2="1154.5" stroke="#2b2b2b" stroke-width="2"/>
<line x1="161" y1="1098.5" x2="172" y2="1098.5" stroke="#2b2b2b" stroke-width="2"/>
<line x1="161" y1="1042.5" x2="172" y2="1042.5" stroke="#2b2b2b" stroke-width="2"/>
<line x1="161" y1="986.5" x2="172" y2="986.5" stroke="#2b2b2b" stroke-width="2"/>
<line x1="161" y1="930.5" x2="172" y2="930.5" stroke="#2b2b2b" stroke-width="2"/>
<line x1="161" y1="874.5" x2="172" y2="874.5" stroke="#2b2b2b" stroke-width="2"/>
<line x1="161" y1="818.5" x2="172" y2="818.5" stroke="#2b2b2b" stroke-width="2"/>
<line x1="161" y1="762.5" x2="172" y2="762.5" stroke="#2b2b2b" stroke-width="2"/>
<path d="M161 1148.75 L166.34 1147.12 L171.68 1145.47 L177.01 1143.79 L182.35 1142.09 L187.69 1140.37 L193.03 1138.63 L198.36 1136.86 L203.7 1135.06 L209.04 1133.24 L214.38 1131.4 L219.71 1129.53 L225.05 1127.63 L230.39 1125.71 L235.73 1123.76 L241.06 1121.78 L246.4 1119.78 L251.74 1117.75 L257.07 1115.69 L262.41 1113.6 L267.75 1111.48 L273.09 1109.34 L278.42 1107.16 L283.76 1104.96 L289.1 1102.72 L294.44 1100.45 L299.77 1098.16 L305.11 1095.83 L310.45 1093.46 L315.79 1091.07 L321.12 1088.64 L326.46 1086.18 L331.8 1083.68 L337.14 1081.15 L342.48 1078.58 L347.81 1075.98 L353.15 1073.35 L358.49 1070.67 L363.82 1067.96 L369.16 1065.21 L374.5 1062.43 L379.84 1059.6 L385.17 1056.74 L390.51 1053.83 L395.85 1050.89 L401.19 1047.9 L406.52 1044.88 L411.86 1041.81 L417.2 1038.7" fill="none" stroke="#7030A0" stroke-width="1.6" stroke-linejoin="round"/>
<path d="M161 1193.3 L166.35 1192.29 L171.69 1191.26 L177.04 1190.22 L182.38 1189.17 L187.73 1188.1 L193.07 1187.02 L198.42 1185.92 L203.77 1184.81 L209.11 1183.68 L214.46 1182.54 L219.8 1181.38 L225.15 1180.2 L230.5 1179.01 L235.84 1177.8 L241.19 1176.58 L246.53 1175.34 L251.88 1174.08 L257.23 1172.8 L262.57 1171.51 L267.92 1170.19 L273.26 1168.86 L278.61 1167.52 L283.95 1166.15 L289.3 1164.76 L294.65 1163.36 L299.99 1161.93 L305.34 1160.49 L310.68 1159.02 L316.03 1157.54 L321.38 1156.04 L326.72 1154.51 L332.07 1152.96 L337.41 1151.4 L342.76 1149.81 L348.1 1148.19 L353.45 1146.56 L358.8 1144.9 L364.14 1143.22 L369.49 1141.52 L374.83 1139.8 L380.18 1138.05 L385.53 1136.27 L390.87 1134.47 L396.22 1132.65 L401.56 1130.8 L406.91 1128.93 L412.25 1127.03 L417.6 1125.1" fill="none" stroke="#0070C0" stroke-width="2.0" stroke-linejoin="round"/>
<path d="M161 1221.4 L166.35 1220.78 L171.69 1220.16 L177.04 1219.53 L182.38 1218.88 L187.73 1218.23 L193.07 1217.57 L198.42 1216.91 L203.77 1216.23 L209.11 1215.54 L214.46 1214.85 L219.8 1214.14 L225.15 1213.43 L230.5 1212.7 L235.84 1211.97 L241.19 1211.22 L246.53 1210.47 L251.88 1209.7 L257.23 1208.92 L262.57 1208.14 L267.92 1207.34 L273.26 1206.53 L278.61 1205.71 L283.95 1204.88 L289.3 1204.04 L294.65 1203.19 L299.99 1202.32 L305.34 1201.45 L310.68 1200.56 L316.03 1199.66 L321.38 1198.74 L326.72 1197.82 L332.07 1196.88 L337.41 1195.93 L342.76 1194.96 L348.1 1193.99 L353.45 1193 L358.8 1191.99 L364.14 1190.97 L369.49 1189.94 L374.83 1188.9 L380.18 1187.84 L385.53 1186.76 L390.87 1185.67 L396.22 1184.57 L401.56 1183.45 L406.91 1182.32 L412.25 1181.17 L417.6 1180" fill="none" stroke="#00B050" stroke-width="2.1" stroke-linejoin="round"/>
<path d="M417.6 1056.9 L418.94 1057.61 L420.28 1058.31 L421.62 1059.01 L422.96 1059.71 L424.3 1060.4 L425.64 1061.09 L426.98 1061.79 L428.32 1062.47 L429.66 1063.16 L431 1063.84 L432.34 1064.53 L433.68 1065.21 L435.01 1065.88 L436.35 1066.56 L437.69 1067.23 L439.03 1067.9 L440.37 1068.57 L441.71 1069.23 L443.05 1069.9 L444.39 1070.56 L445.73 1071.22 L447.07 1071.88 L448.41 1072.53 L449.75 1073.18 L451.09 1073.83 L452.43 1074.48 L453.77 1075.13 L455.11 1075.77 L456.45 1076.41 L457.79 1077.05 L459.13 1077.69 L460.47 1078.32 L461.81 1078.96 L463.15 1079.59 L464.49 1080.22 L465.82 1080.84 L467.16 1081.47 L468.5 1082.09 L469.84 1082.71 L471.18 1083.33 L472.52 1083.94 L473.86 1084.56 L475.2 1085.17 L476.54 1085.78 L477.88 1086.39 L479.22 1086.99 L480.56 1087.6 L481.9 1088.2" fill="none" stroke="#7030A0" stroke-width="1.6" stroke-linejoin="round"/>
<path d="M417.6 1125.1 L418.94 1125.77 L420.28 1126.43 L421.61 1127.09 L422.95 1127.75 L424.29 1128.4 L425.62 1129.05 L426.96 1129.7 L428.3 1130.35 L429.64 1130.99 L430.98 1131.63 L432.31 1132.26 L433.65 1132.9 L434.99 1133.53 L436.33 1134.15 L437.66 1134.78 L439 1135.4 L440.34 1136.02 L441.68 1136.63 L443.01 1137.24 L444.35 1137.85 L445.69 1138.46 L447.03 1139.06 L448.36 1139.66 L449.7 1140.26 L451.04 1140.86 L452.38 1141.45 L453.71 1142.04 L455.05 1142.63 L456.39 1143.21 L457.73 1143.79 L459.06 1144.37 L460.4 1144.95 L461.74 1145.52 L463.08 1146.09 L464.41 1146.66 L465.75 1147.22 L467.09 1147.79 L468.43 1148.35 L469.76 1148.9 L471.1 1149.46 L472.44 1150.01 L473.78 1150.56 L475.11 1151.11 L476.45 1151.65 L477.79 1152.19 L479.12 1152.73 L480.46 1153.27 L481.8 1153.8" fill="none" stroke="#0070C0" stroke-width="2.0" stroke-linejoin="round"/>
<path d="M417.6 1180 L418.94 1180.64 L420.28 1181.28 L421.61 1181.91 L422.95 1182.54 L424.29 1183.16 L425.62 1183.78 L426.96 1184.39 L428.3 1185 L429.64 1185.61 L430.98 1186.21 L432.31 1186.8 L433.65 1187.4 L434.99 1187.98 L436.33 1188.57 L437.66 1189.14 L439 1189.72 L440.34 1190.29 L441.68 1190.85 L443.01 1191.41 L444.35 1191.97 L445.69 1192.52 L447.03 1193.07 L448.36 1193.62 L449.7 1194.16 L451.04 1194.7 L452.38 1195.23 L453.71 1195.76 L455.05 1196.28 L456.39 1196.8 L457.73 1197.32 L459.06 1197.83 L460.4 1198.34 L461.74 1198.85 L463.08 1199.35 L464.41 1199.85 L465.75 1200.34 L467.09 1200.83 L468.43 1201.32 L469.76 1201.81 L471.1 1202.29 L472.44 1202.76 L473.78 1203.24 L475.11 1203.7 L476.45 1204.17 L477.79 1204.63 L479.12 1205.09 L480.46 1205.55 L481.8 1206" fill="none" stroke="#00B050" stroke-width="2.1" stroke-linejoin="round"/>
<path d="M481 1178.8 L486.37 1175.59 L491.74 1172.25 L497.11 1168.8 L502.48 1165.22 L507.85 1161.51 L513.23 1157.66 L518.6 1153.67 L523.97 1149.54 L529.34 1145.25 L534.71 1140.81 L540.08 1136.2 L545.45 1131.43 L550.82 1126.48 L556.19 1121.34 L561.56 1116.02 L566.93 1110.51 L572.3 1104.79 L577.67 1098.87 L583.05 1092.72 L588.42 1086.36 L593.79 1079.75 L599.16 1072.91 L604.53 1065.82 L609.9 1058.46 L615.27 1050.84 L620.64 1042.93 L626.01 1034.74 L631.38 1026.25 L636.75 1017.44 L642.12 1008.32 L647.5 998.85 L652.87 989.05 L658.24 978.88 L663.61 968.34 L668.98 957.41 L674.35 946.08 L679.72 934.34 L685.09 922.17 L690.46 909.55 L695.83 896.47 L701.2 882.91 L706.57 868.85 L711.95 854.28 L717.32 839.17 L722.69 823.51 L728.06 807.28 L733.43 790.45 L738.8 773" fill="none" stroke="#E80808" stroke-width="1.4" stroke-linejoin="round"/>
<path d="M481 1198 L486.36 1195.32 L491.72 1192.54 L497.08 1189.65 L502.44 1186.64 L507.8 1183.52 L513.16 1180.27 L518.52 1176.9 L523.88 1173.4 L529.24 1169.75 L534.6 1165.97 L539.96 1162.04 L545.33 1157.95 L550.69 1153.71 L556.05 1149.3 L561.41 1144.71 L566.77 1139.95 L572.13 1135 L577.49 1129.86 L582.85 1124.52 L588.21 1118.96 L593.57 1113.2 L598.93 1107.2 L604.29 1100.97 L609.65 1094.5 L615.01 1087.77 L620.37 1080.78 L625.73 1073.52 L631.09 1065.97 L636.45 1058.13 L641.81 1049.98 L647.17 1041.51 L652.53 1032.71 L657.89 1023.57 L663.25 1014.07 L668.61 1004.2 L673.97 993.94 L679.34 983.28 L684.7 972.21 L690.06 960.7 L695.42 948.74 L700.78 936.31 L706.14 923.4 L711.5 909.98 L716.86 896.04 L722.22 881.55 L727.58 866.5 L732.94 850.85 L738.3 834.6" fill="none" stroke="#B84040" stroke-width="1.4" stroke-linejoin="round"/>
<path d="M481 1218 L486.35 1216.05 L491.7 1214.03 L497.06 1211.92 L502.41 1209.73 L507.76 1207.46 L513.11 1205.09 L518.46 1202.62 L523.82 1200.06 L529.17 1197.4 L534.52 1194.62 L539.87 1191.74 L545.23 1188.74 L550.58 1185.62 L555.93 1182.37 L561.28 1179 L566.63 1175.49 L571.99 1171.84 L577.34 1168.04 L582.69 1164.09 L588.04 1159.98 L593.39 1155.7 L598.75 1151.26 L604.1 1146.63 L609.45 1141.82 L614.8 1136.82 L620.15 1131.62 L625.51 1126.21 L630.86 1120.58 L636.21 1114.72 L641.56 1108.63 L646.91 1102.3 L652.27 1095.71 L657.62 1088.86 L662.97 1081.73 L668.32 1074.31 L673.67 1066.6 L679.03 1058.58 L684.38 1050.24 L689.73 1041.56 L695.08 1032.54 L700.44 1023.15 L705.79 1013.39 L711.14 1003.23 L716.49 992.67 L721.84 981.68 L727.2 970.25 L732.55 958.36 L737.9 946" fill="none" stroke="#000" stroke-width="1.5" stroke-linejoin="round"/>
<path d="M738.8 802.8 L744.14 807.47 L749.47 812.1 L754.81 816.67 L760.15 821.21 L765.49 825.69 L770.82 830.13 L776.16 834.53 L781.5 838.88 L786.84 843.19 L792.17 847.46 L797.51 851.68 L802.85 855.86 L808.19 859.99 L813.52 864.09 L818.86 868.14 L824.2 872.16 L829.54 876.13 L834.88 880.06 L840.21 883.96 L845.55 887.81 L850.89 891.63 L856.22 895.4 L861.56 899.14 L866.9 902.84 L872.24 906.51 L877.57 910.13 L882.91 913.72 L888.25 917.28 L893.59 920.8 L898.92 924.28 L904.26 927.73 L909.6 931.14 L914.94 934.52 L920.27 937.86 L925.61 941.17 L930.95 944.45 L936.29 947.7 L941.62 950.91 L946.96 954.09 L952.3 957.23 L957.64 960.35 L962.98 963.44 L968.31 966.49 L973.65 969.51 L978.99 972.5 L984.33 975.47 L989.66 978.4 L995 981.3" fill="none" stroke="#E80808" stroke-width="1.5" stroke-linejoin="round"/>
<path d="M738.3 834.6 L743.65 839.69 L749 844.71 L754.34 849.68 L759.69 854.59 L765.04 859.44 L770.39 864.23 L775.74 868.97 L781.08 873.65 L786.43 878.27 L791.78 882.85 L797.13 887.36 L802.47 891.83 L807.82 896.24 L813.17 900.6 L818.52 904.91 L823.87 909.17 L829.21 913.37 L834.56 917.53 L839.91 921.64 L845.26 925.7 L850.61 929.71 L855.95 933.68 L861.3 937.6 L866.65 941.47 L872 945.3 L877.35 949.08 L882.69 952.82 L888.04 956.51 L893.39 960.16 L898.74 963.77 L904.09 967.34 L909.43 970.86 L914.78 974.34 L920.13 977.78 L925.48 981.18 L930.83 984.54 L936.17 987.86 L941.52 991.14 L946.87 994.38 L952.22 997.59 L957.56 1000.75 L962.91 1003.88 L968.26 1006.98 L973.61 1010.03 L978.96 1013.05 L984.3 1016.04 L989.65 1018.99 L995 1021.9" fill="none" stroke="#B84040" stroke-width="1.4" stroke-linejoin="round"/>
<path d="M738.2 925 L743.55 929.07 L748.9 933.09 L754.25 937.06 L759.6 940.99 L764.95 944.87 L770.3 948.7 L775.65 952.48 L781 956.22 L786.35 959.92 L791.7 963.57 L797.05 967.18 L802.4 970.75 L807.75 974.27 L813.1 977.76 L818.45 981.2 L823.8 984.59 L829.15 987.95 L834.5 991.27 L839.85 994.55 L845.2 997.79 L850.55 1000.99 L855.9 1004.16 L861.25 1007.28 L866.6 1010.37 L871.95 1013.42 L877.3 1016.44 L882.65 1019.42 L888 1022.36 L893.35 1025.27 L898.7 1028.14 L904.05 1030.98 L909.4 1033.79 L914.75 1036.56 L920.1 1039.3 L925.45 1042.01 L930.8 1044.68 L936.15 1047.33 L941.5 1049.94 L946.85 1052.52 L952.2 1055.07 L957.55 1057.59 L962.9 1060.08 L968.25 1062.54 L973.6 1064.97 L978.95 1067.37 L984.3 1069.74 L989.65 1072.08 L995 1074.4" fill="none" stroke="#000" stroke-width="1.5" stroke-linejoin="round"/>
<rect x="472.5" y="1214.7" width="18.6" height="18.6" rx="1.6" fill="#000"/>
<rect x="536.6" y="1167.5" width="18.6" height="18.6" rx="1.6" fill="#000"/>
<rect x="600.4" y="1120.9" width="18.6" height="18.6" rx="1.6" fill="#000"/>
<rect x="664.6" y="1075.6" width="18.6" height="18.6" rx="1.6" fill="#000"/>
<rect x="728.6" y="938.2" width="18.6" height="18.6" rx="1.6" fill="#000"/>
<rect x="792.5" y="953.9" width="18.6" height="18.6" rx="1.6" fill="#000"/>
<rect x="856.7" y="983.7" width="18.6" height="18.6" rx="1.6" fill="#000"/>
<rect x="921.7" y="1025.5" width="18.6" height="18.6" rx="1.6" fill="#000"/>
<rect x="986" y="1080.5" width="18.6" height="18.6" rx="1.6" fill="#000"/>
<polygon points="473.32,1211.7 490.28,1211.7 481.8,1195.3" fill="#B03030" stroke="#B03030" stroke-width="1.6" stroke-linejoin="round"/>
<polygon points="537.42,1161.7 554.38,1161.7 545.9,1145.3" fill="#B03030" stroke="#B03030" stroke-width="1.6" stroke-linejoin="round"/>
<polygon points="601.22,1088.6 618.18,1088.6 609.7,1072.2" fill="#B03030" stroke="#B03030" stroke-width="1.6" stroke-linejoin="round"/>
<polygon points="665.42,991.7 682.38,991.7 673.9,975.3" fill="#B03030" stroke="#B03030" stroke-width="1.6" stroke-linejoin="round"/>
<polygon points="729.42,869.8 746.38,869.8 737.9,853.4" fill="#B03030" stroke="#B03030" stroke-width="1.6" stroke-linejoin="round"/>
<polygon points="793.32,887.2 810.28,887.2 801.8,870.8" fill="#B03030" stroke="#B03030" stroke-width="1.6" stroke-linejoin="round"/>
<polygon points="857.52,932.7 874.48,932.7 866,916.3" fill="#B03030" stroke="#B03030" stroke-width="1.6" stroke-linejoin="round"/>
<polygon points="922.52,985.7 939.48,985.7 931,969.3" fill="#B03030" stroke="#B03030" stroke-width="1.6" stroke-linejoin="round"/>
<polygon points="986.82,1045.2 1003.78,1045.2 995.3,1028.8" fill="#B03030" stroke="#B03030" stroke-width="1.6" stroke-linejoin="round"/>
<circle cx="481.8" cy="1190.6" r="9.3" fill="#E00000"/>
<circle cx="545.9" cy="1117.7" r="9.3" fill="#E00000"/>
<circle cx="609.7" cy="1033.3" r="9.3" fill="#E00000"/>
<circle cx="673.9" cy="938" r="9.3" fill="#E00000"/>
<circle cx="737.9" cy="821.4" r="9.3" fill="#E00000"/>
<circle cx="801.8" cy="841.3" r="9.3" fill="#E00000"/>
<circle cx="866" cy="899.1" r="9.3" fill="#E00000"/>
<circle cx="931" cy="936.3" r="9.3" fill="#E00000"/>
<circle cx="995.3" cy="992.6" r="9.3" fill="#E00000"/>
<polygon points="153.07,1230.2 168.93,1230.2 161,1214.2" fill="none" stroke="#00B050" stroke-width="3.0" stroke-linejoin="round"/>
<polygon points="217.57,1222.4 233.43,1222.4 225.5,1206.4" fill="none" stroke="#00B050" stroke-width="3.0" stroke-linejoin="round"/>
<polygon points="281.38,1206.8 297.23,1206.8 289.3,1190.8" fill="none" stroke="#00B050" stroke-width="3.0" stroke-linejoin="round"/>
<polygon points="345.68,1203.9 361.53,1203.9 353.6,1187.9" fill="none" stroke="#00B050" stroke-width="3.0" stroke-linejoin="round"/>
<polygon points="409.68,1187.6 425.53,1187.6 417.6,1171.6" fill="none" stroke="#00B050" stroke-width="3.0" stroke-linejoin="round"/>
<polygon points="473.88,1214.4 489.73,1214.4 481.8,1198.4" fill="none" stroke="#00B050" stroke-width="3.0" stroke-linejoin="round"/>
<path d="M153.65 1188.25 L168.35 1202.95 M153.65 1202.95 L168.35 1188.25" stroke="#0070C0" stroke-width="2.8" stroke-linecap="round" fill="none"/>
<path d="M218.15 1174.55 L232.85 1189.25 M218.15 1189.25 L232.85 1174.55" stroke="#0070C0" stroke-width="2.8" stroke-linecap="round" fill="none"/>
<path d="M281.95 1149.25 L296.65 1163.95 M281.95 1163.95 L296.65 1149.25" stroke="#0070C0" stroke-width="2.8" stroke-linecap="round" fill="none"/>
<path d="M346.25 1145.05 L360.95 1159.75 M346.25 1159.75 L360.95 1145.05" stroke="#0070C0" stroke-width="2.8" stroke-linecap="round" fill="none"/>
<path d="M410.25 1117.75 L424.95 1132.45 M410.25 1132.45 L424.95 1117.75" stroke="#0070C0" stroke-width="2.8" stroke-linecap="round" fill="none"/>
<path d="M474.45 1146.45 L489.15 1161.15 M474.45 1161.15 L489.15 1146.45" stroke="#0070C0" stroke-width="2.8" stroke-linecap="round" fill="none"/>
<circle cx="161" cy="1158.1" r="7.6" fill="none" stroke="#7030A0" stroke-width="2.6"/>
<circle cx="225.5" cy="1122.2" r="7.6" fill="none" stroke="#7030A0" stroke-width="2.6"/>
<circle cx="289.3" cy="1088.1" r="7.6" fill="none" stroke="#7030A0" stroke-width="2.6"/>
<circle cx="353.6" cy="1066.3" r="7.6" fill="none" stroke="#7030A0" stroke-width="2.6"/>
<circle cx="417.6" cy="1056.9" r="7.6" fill="none" stroke="#000" stroke-width="2.6"/>
<circle cx="481.8" cy="1088.2" r="7.6" fill="none" stroke="#000" stroke-width="2.6"/>
<rect x="174.3" y="736.8" width="18.6" height="18.6" rx="1.6" fill="#000"/>
<polygon points="359.62,754.5 376.58,754.5 368.1,738.1" fill="#B03030" stroke="#B03030" stroke-width="1.6" stroke-linejoin="round"/>
<circle cx="183.1" cy="827.3" r="9.3" fill="#E00000"/>
<polygon points="360.07,835.25 375.93,835.25 368,819.75" fill="none" stroke="#00B050" stroke-width="3.0" stroke-linejoin="round"/>
<path d="M176.2 902.2 L191 917 M176.2 917 L191 902.2" stroke="#0070C0" stroke-width="2.8" stroke-linecap="round" fill="none"/>
<circle cx="368.2" cy="910" r="7.4" fill="none" stroke="#7030A0" stroke-width="2.6"/>
<text x="203.59" y="757.85" font-family='"Liberation Sans", sans-serif' font-size="31.68" font-weight="normal" textLength="19.51" lengthAdjust="spacingAndGlyphs" stroke="#000" stroke-width="1.45" stroke-linejoin="round">A</text>
<path transform="translate(228.4 751.4) scale(1.17 0.97)" d="M0.4,2.2 C0.4,0.8 1.6,0 3.3,0 C5.3,0 6.5,1.2 6.5,3.0 C6.5,5.6 4.3,8.0 1.3,9.1 L0.5,8.1 C2.2,7.2 3.2,6.2 3.4,5.0 C1.6,4.9 0.4,3.7 0.4,2.2 Z" fill="#000"/>
<text x="261.95" y="757.85" font-family='"Liberation Sans", sans-serif' font-size="31.68" font-weight="normal" textLength="75.44" lengthAdjust="spacingAndGlyphs" stroke="#000" stroke-width="1.45" stroke-linejoin="round">70kV</text>
<text x="389.29" y="757.85" font-family='"Liberation Sans", sans-serif' font-size="31.68" font-weight="normal" textLength="19.51" lengthAdjust="spacingAndGlyphs" stroke="#000" stroke-width="1.45" stroke-linejoin="round">A</text>
<path transform="translate(414.1 751.4) scale(1.17 0.97)" d="M0.4,2.2 C0.4,0.8 1.6,0 3.3,0 C5.3,0 6.5,1.2 6.5,3.0 C6.5,5.6 4.3,8.0 1.3,9.1 L0.5,8.1 C2.2,7.2 3.2,6.2 3.4,5.0 C1.6,4.9 0.4,3.7 0.4,2.2 Z" fill="#000"/>
<text x="447.92" y="757.85" font-family='"Liberation Sans", sans-serif' font-size="31.68" font-weight="normal" textLength="74.97" lengthAdjust="spacingAndGlyphs" stroke="#000" stroke-width="1.45" stroke-linejoin="round">80kV</text>
<text x="203.59" y="837.85" font-family='"Liberation Sans", sans-serif' font-size="31.68" font-weight="normal" textLength="19.51" lengthAdjust="spacingAndGlyphs" stroke="#000" stroke-width="1.45" stroke-linejoin="round">A</text>
<path transform="translate(228.4 831.4) scale(1.17 0.97)" d="M0.4,2.2 C0.4,0.8 1.6,0 3.3,0 C5.3,0 6.5,1.2 6.5,3.0 C6.5,5.6 4.3,8.0 1.3,9.1 L0.5,8.1 C2.2,7.2 3.2,6.2 3.4,5.0 C1.6,4.9 0.4,3.7 0.4,2.2 Z" fill="#000"/>
<text x="261.69" y="837.85" font-family='"Liberation Sans", sans-serif' font-size="31.68" font-weight="normal" textLength="75.7" lengthAdjust="spacingAndGlyphs" stroke="#000" stroke-width="1.45" stroke-linejoin="round">90kV</text>
<text x="388.32" y="837.85" font-family='"Liberation Sans", sans-serif' font-size="31.68" font-weight="normal" textLength="20.55" lengthAdjust="spacingAndGlyphs" stroke="#000" stroke-width="1.45" stroke-linejoin="round">B</text>
<path transform="translate(412.4 831.4) scale(1.17 0.97)" d="M0.4,2.2 C0.4,0.8 1.6,0 3.3,0 C5.3,0 6.5,1.2 6.5,3.0 C6.5,5.6 4.3,8.0 1.3,9.1 L0.5,8.1 C2.2,7.2 3.2,6.2 3.4,5.0 C1.6,4.9 0.4,3.7 0.4,2.2 Z" fill="#000"/>
<text x="446.25" y="837.85" font-family='"Liberation Sans", sans-serif' font-size="31.68" font-weight="normal" textLength="75.44" lengthAdjust="spacingAndGlyphs" stroke="#000" stroke-width="1.45" stroke-linejoin="round">70kV</text>
<text x="202.48" y="918.75" font-family='"Liberation Sans", sans-serif' font-size="31.68" font-weight="normal" textLength="20.93" lengthAdjust="spacingAndGlyphs" stroke="#000" stroke-width="1.45" stroke-linejoin="round">B</text>
<path transform="translate(226.9 912.2) scale(1.17 0.97)" d="M0.4,2.2 C0.4,0.8 1.6,0 3.3,0 C5.3,0 6.5,1.2 6.5,3.0 C6.5,5.6 4.3,8.0 1.3,9.1 L0.5,8.1 C2.2,7.2 3.2,6.2 3.4,5.0 C1.6,4.9 0.4,3.7 0.4,2.2 Z" fill="#000"/>
<text x="260.72" y="918.75" font-family='"Liberation Sans", sans-serif' font-size="31.68" font-weight="normal" textLength="75.28" lengthAdjust="spacingAndGlyphs" stroke="#000" stroke-width="1.45" stroke-linejoin="round">80kV</text>
<text x="388.32" y="918.75" font-family='"Liberation Sans", sans-serif' font-size="31.68" font-weight="normal" textLength="20.55" lengthAdjust="spacingAndGlyphs" stroke="#000" stroke-width="1.45" stroke-linejoin="round">B</text>
<path transform="translate(412.5 912.2) scale(1.17 0.97)" d="M0.4,2.2 C0.4,0.8 1.6,0 3.3,0 C5.3,0 6.5,1.2 6.5,3.0 C6.5,5.6 4.3,8.0 1.3,9.1 L0.5,8.1 C2.2,7.2 3.2,6.2 3.4,5.0 C1.6,4.9 0.4,3.7 0.4,2.2 Z" fill="#000"/>
<text x="446.1" y="918.75" font-family='"Liberation Sans", sans-serif' font-size="31.68" font-weight="normal" textLength="75.29" lengthAdjust="spacingAndGlyphs" stroke="#000" stroke-width="1.45" stroke-linejoin="round">90kV</text>
<text x="48.09" y="715.86" font-family='"Liberation Sans", sans-serif' font-size="27.33" font-weight="normal" textLength="81.98" lengthAdjust="spacingAndGlyphs" stroke="#000" stroke-width="1.25" stroke-linejoin="round">50000</text>
<text x="48.6" y="771.81" font-family='"Liberation Sans", sans-serif' font-size="27.33" font-weight="normal" textLength="81.47" lengthAdjust="spacingAndGlyphs" stroke="#000" stroke-width="1.25" stroke-linejoin="round">45000</text>
<text x="48.6" y="827.76" font-family='"Liberation Sans", sans-serif' font-size="27.33" font-weight="normal" textLength="81.47" lengthAdjust="spacingAndGlyphs" stroke="#000" stroke-width="1.25" stroke-linejoin="round">40000</text>
<text x="48.15" y="883.71" font-family='"Liberation Sans", sans-serif' font-size="27.33" font-weight="normal" textLength="81.92" lengthAdjust="spacingAndGlyphs" stroke="#000" stroke-width="1.25" stroke-linejoin="round">35000</text>
<text x="48.15" y="939.66" font-family='"Liberation Sans", sans-serif' font-size="27.33" font-weight="normal" textLength="81.92" lengthAdjust="spacingAndGlyphs" stroke="#000" stroke-width="1.25" stroke-linejoin="round">30000</text>
<text x="47.79" y="995.61" font-family='"Liberation Sans", sans-serif' font-size="27.33" font-weight="normal" textLength="82.29" lengthAdjust="spacingAndGlyphs" stroke="#000" stroke-width="1.25" stroke-linejoin="round">25000</text>
<text x="47.79" y="1051.56" font-family='"Liberation Sans", sans-serif' font-size="27.33" font-weight="normal" textLength="82.29" lengthAdjust="spacingAndGlyphs" stroke="#000" stroke-width="1.25" stroke-linejoin="round">20000</text>
<text x="47" y="1107.51" font-family='"Liberation Sans", sans-serif' font-size="27.33" font-weight="normal" textLength="83.09" lengthAdjust="spacingAndGlyphs" stroke="#000" stroke-width="1.25" stroke-linejoin="round">15000</text>
<text x="47" y="1163.46" font-family='"Liberation Sans", sans-serif' font-size="27.33" font-weight="normal" textLength="83.09" lengthAdjust="spacingAndGlyphs" stroke="#000" stroke-width="1.25" stroke-linejoin="round">10000</text>
<text x="64.87" y="1219.41" font-family='"Liberation Sans", sans-serif' font-size="27.33" font-weight="normal" textLength="67.14" lengthAdjust="spacingAndGlyphs" stroke="#000" stroke-width="1.25" stroke-linejoin="round">5000</text>
<text x="115.3" y="1275.36" font-family='"Liberation Sans", sans-serif' font-size="27.33" font-weight="normal" textLength="16.7" lengthAdjust="spacingAndGlyphs" stroke="#000" stroke-width="1.25" stroke-linejoin="round">0</text>
<text x="145.29" y="1317.96" font-family='"Liberation Sans", sans-serif' font-size="26.91" font-weight="normal" textLength="32.89" lengthAdjust="spacingAndGlyphs" stroke="#000" stroke-width="1.25" stroke-linejoin="round">50</text>
<text x="208.93" y="1317.96" font-family='"Liberation Sans", sans-serif' font-size="26.91" font-weight="normal" textLength="33.78" lengthAdjust="spacingAndGlyphs" stroke="#000" stroke-width="1.25" stroke-linejoin="round">60</text>
<text x="272.66" y="1317.96" font-family='"Liberation Sans", sans-serif' font-size="26.91" font-weight="normal" textLength="33.85" lengthAdjust="spacingAndGlyphs" stroke="#000" stroke-width="1.25" stroke-linejoin="round">70</text>
<text x="336.16" y="1317.96" font-family='"Liberation Sans", sans-serif' font-size="26.91" font-weight="normal" textLength="33.54" lengthAdjust="spacingAndGlyphs" stroke="#000" stroke-width="1.25" stroke-linejoin="round">80</text>
<text x="400.53" y="1317.96" font-family='"Liberation Sans", sans-serif' font-size="26.91" font-weight="normal" textLength="34.19" lengthAdjust="spacingAndGlyphs" stroke="#000" stroke-width="1.25" stroke-linejoin="round">90</text>
<text x="456.18" y="1317.96" font-family='"Liberation Sans", sans-serif' font-size="26.91" font-weight="normal" textLength="50.33" lengthAdjust="spacingAndGlyphs" stroke="#000" stroke-width="1.25" stroke-linejoin="round">100</text>
<text x="520.8" y="1317.96" font-family='"Liberation Sans", sans-serif' font-size="26.91" font-weight="normal" textLength="47.53" lengthAdjust="spacingAndGlyphs" stroke="#000" stroke-width="1.25" stroke-linejoin="round">110</text>
<text x="586.16" y="1317.96" font-family='"Liberation Sans", sans-serif' font-size="26.91" font-weight="normal" textLength="48.5" lengthAdjust="spacingAndGlyphs" stroke="#000" stroke-width="1.25" stroke-linejoin="round">120</text>
<text x="649.86" y="1317.96" font-family='"Liberation Sans", sans-serif' font-size="26.91" font-weight="normal" textLength="48.61" lengthAdjust="spacingAndGlyphs" stroke="#000" stroke-width="1.25" stroke-linejoin="round">130</text>
<text x="714.81" y="1317.96" font-family='"Liberation Sans", sans-serif' font-size="26.91" font-weight="normal" textLength="47.43" lengthAdjust="spacingAndGlyphs" stroke="#000" stroke-width="1.25" stroke-linejoin="round">140</text>
<text x="779.53" y="1317.96" font-family='"Liberation Sans", sans-serif' font-size="26.91" font-weight="normal" textLength="49.14" lengthAdjust="spacingAndGlyphs" stroke="#000" stroke-width="1.25" stroke-linejoin="round">150</text>
<text x="843.86" y="1317.96" font-family='"Liberation Sans", sans-serif' font-size="26.91" font-weight="normal" textLength="48.61" lengthAdjust="spacingAndGlyphs" stroke="#000" stroke-width="1.25" stroke-linejoin="round">160</text>
<text x="907.56" y="1317.96" font-family='"Liberation Sans", sans-serif' font-size="26.91" font-weight="normal" textLength="48.61" lengthAdjust="spacingAndGlyphs" stroke="#000" stroke-width="1.25" stroke-linejoin="round">170</text>
<text x="972.51" y="1317.96" font-family='"Liberation Sans", sans-serif' font-size="26.91" font-weight="normal" textLength="47.43" lengthAdjust="spacingAndGlyphs" stroke="#000" stroke-width="1.25" stroke-linejoin="round">180</text>
<text x="544.55" y="1353.83" font-family='"Liberation Sans", sans-serif' font-size="30.88" font-weight="normal" textLength="68.23" lengthAdjust="spacingAndGlyphs" stroke="#000" stroke-width="1.5" stroke-linejoin="round">Gain</text>
<text transform="translate(30.3 1109.4) rotate(-90)" x="-0.57" y="0" font-family='"Liberation Serif", serif' font-size="32.68" font-weight="bold" textLength="102.68" lengthAdjust="spacingAndGlyphs">Photon</text>
<text transform="translate(30.3 1000.4) rotate(-90)" x="-0.96" y="0" font-family='"Liberation Serif", serif' font-size="32.68" font-weight="bold" textLength="134.63" lengthAdjust="spacingAndGlyphs">numbers</text>
<text x="495.46" y="1407.42" font-family='"Liberation Serif", serif' font-size="35.62" font-weight="normal" textLength="10.89" lengthAdjust="spacingAndGlyphs">(</text>
<text x="506.72" y="1407.64" font-family='"Liberation Serif", serif' font-size="37.24" font-weight="bold" textLength="21.23" lengthAdjust="spacingAndGlyphs">b</text>
<text x="527.81" y="1407.42" font-family='"Liberation Serif", serif' font-size="35.62" font-weight="normal" textLength="11.28" lengthAdjust="spacingAndGlyphs">)</text>
</svg></body></html>
